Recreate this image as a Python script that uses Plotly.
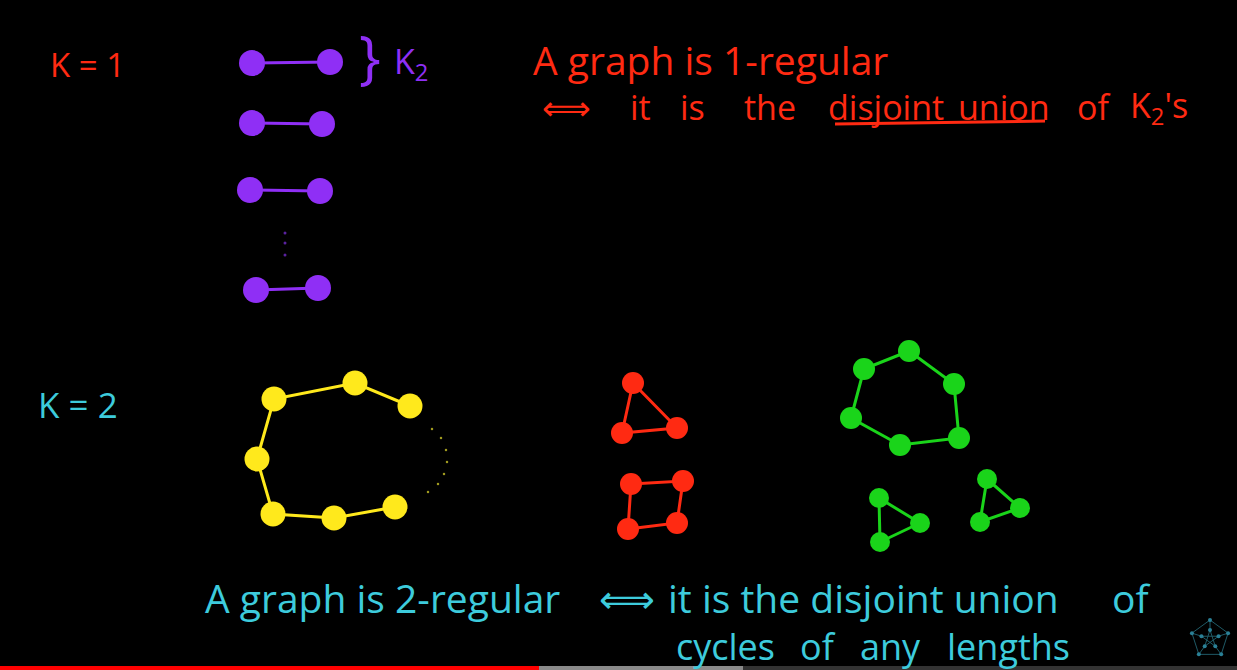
import math
import plotly.graph_objects as go

# --- Data: node positions (pixel space of the board) ---
# k=1: copies of K2
k2_left_x = [252, 252, 250, 256]
k2_left_y = [63, 123, 190, 290]
k2_right_x = [330, 322, 320, 318]
k2_right_y = [62, 124, 191, 288]
vdots_x = [285, 285, 285]
vdots_y = [233, 243, 255]

# k=2: long yellow path (drawn open, closed by dots)
yellow_x = [410, 355, 274, 257, 273, 334, 395]
yellow_y = [406, 383, 399, 459, 514, 518, 507]
ydots_x = [432, 441, 446, 447, 444, 438, 428]
ydots_y = [429, 438, 450, 462, 474, 484, 492]

# red cycles
red_tri_x = [633, 677, 622]
red_tri_y = [383, 428, 433]
red_sq_x = [631, 683, 677, 628]
red_sq_y = [484, 481, 523, 529]

# green cycles
green_hex_x = [864, 909, 954, 959, 900, 851]
green_hex_y = [369, 351, 384, 438, 445, 418]
green_tri1_x = [879, 920, 880]
green_tri1_y = [498, 523, 542]
green_tri2_x = [987, 1020, 980]
green_tri2_y = [479, 508, 522]

# video progress bar segments (start, end)
bar_starts = [0, 539, 743]
bar_ends = [539, 743, 1237]
bar_colors = ["#ff0000", "#8a8a8a", "#333333"]

# text, split into the hand-written words
red_line1 = "A graph is 1-regular"
red_line2_words = ["⟺", "it", "is", "the", "disjoint", "union", "of", "K<sub>2</sub>'s"]
cyan_line1_words = ["A graph is 2-regular", "⟺", "it is the disjoint union", "of"]
cyan_line2_words = ["cycles", "of", "any", "lengths"]

RED = "#ff2a12"
PURPLE = "#8f2ff5"
YELLOW = "#ffe91c"
GREEN = "#1ad41a"
CYAN = "#3dcbdc"
FONT = "Open Sans, DejaVu Sans"

fig = go.Figure()


def cycle(xs, ys, color, size, width=3):
    fig.add_trace(go.Scatter(
        x=xs + xs[:1], y=ys + ys[:1], mode="lines",
        line=dict(color=color, width=width), hoverinfo="skip"))
    fig.add_trace(go.Scatter(
        x=xs, y=ys, mode="markers",
        marker=dict(color=color, size=size, line=dict(width=0)),
        hoverinfo="skip"))


def label(t, x, y, color, size):
    fig.add_annotation(text=t, x=x, y=y, xref="x", yref="y", xanchor="left",
                       yanchor="middle", showarrow=False,
                       font=dict(family=FONT, size=size, color=color))


# K2 copies
for lx, ly, rx, ry in zip(k2_left_x, k2_left_y, k2_right_x, k2_right_y):
    fig.add_trace(go.Scatter(x=[lx, rx], y=[ly, ry], mode="lines+markers",
                             line=dict(color=PURPLE, width=3),
                             marker=dict(color=PURPLE, size=26),
                             hoverinfo="skip"))
fig.add_trace(go.Scatter(x=vdots_x, y=vdots_y, mode="markers",
                         marker=dict(color="#5a22a0", size=3), hoverinfo="skip"))

# yellow path
fig.add_trace(go.Scatter(x=yellow_x, y=yellow_y, mode="lines",
                         line=dict(color=YELLOW, width=3), hoverinfo="skip"))
fig.add_trace(go.Scatter(x=yellow_x, y=yellow_y, mode="markers",
                         marker=dict(color=YELLOW, size=25), hoverinfo="skip"))
fig.add_trace(go.Scatter(x=ydots_x, y=ydots_y, mode="markers",
                         marker=dict(color="#a09a20", size=2.5), hoverinfo="skip"))

cycle(red_tri_x, red_tri_y, RED, 22)
cycle(red_sq_x, red_sq_y, RED, 22)
cycle(green_hex_x, green_hex_y, GREEN, 22)
cycle(green_tri1_x, green_tri1_y, GREEN, 20)
cycle(green_tri2_x, green_tri2_y, GREEN, 20)

# underline under "disjoint union"
fig.add_trace(go.Scatter(x=[835, 1045], y=[124, 121], mode="lines",
                         line=dict(color=RED, width=3), hoverinfo="skip"))

# Petersen graph logo (bottom right)
cx, cy, ro, ri = 1210, 639, 19, 9
outer = [(cx + ro * math.sin(2 * math.pi * i / 5), cy - ro * math.cos(2 * math.pi * i / 5)) for i in range(5)]
inner = [(cx + ri * math.sin(2 * math.pi * i / 5), cy - ri * math.cos(2 * math.pi * i / 5)) for i in range(5)]
lx, ly = [], []
for i in range(5):
    for a, b in [(outer[i], outer[(i + 1) % 5]), (outer[i], inner[i]), (inner[i], inner[(i + 2) % 5])]:
        lx += [a[0], b[0], None]
        ly += [a[1], b[1], None]
fig.add_trace(go.Scatter(x=lx, y=ly, mode="lines", line=dict(color="#1f5a66", width=1),
                         hoverinfo="skip"))
fig.add_trace(go.Scatter(x=[p[0] for p in outer + inner], y=[p[1] for p in outer + inner],
                         mode="markers", marker=dict(color="#2a8096", size=4), hoverinfo="skip"))

# progress bar
for s, e, c in zip(bar_starts, bar_ends, bar_colors):
    fig.add_shape(type="rect", x0=s, x1=e, y0=666, y1=670, fillcolor=c, line=dict(width=0))

# --- Text ---
label("K = 1", 48, 64, RED, 33)
label("K = 2", 36, 404, CYAN, 35)
label("}", 357, 55, PURPLE, 58)
label("K<sub>2</sub>", 392, 63, PURPLE, 34)

label(red_line1, 531, 59, RED, 39)
for w, x in zip(red_line2_words, [540, 628, 678, 742, 826, 956, 1075, 1128]):
    label(w, x, 107, RED, 34)
for w, x in zip(cyan_line1_words, [203, 597, 666, 1110]):
    label(w, x, 597, CYAN, 39)
for w, x in zip(cyan_line2_words, [674, 798, 858, 945]):
    label(w, x, 646, CYAN, 36)

fig.update_layout(
    width=1237, height=670,
    margin=dict(l=0, r=0, t=0, b=0),
    paper_bgcolor="black", plot_bgcolor="black",
    showlegend=False,
    xaxis=dict(range=[0, 1237], visible=False, fixedrange=True),
    yaxis=dict(range=[670, 0], visible=False, fixedrange=True),
)

fig.write_html("out.html", config={"displayModeBar": False},
               post_script="document.body.style.margin='0';")
